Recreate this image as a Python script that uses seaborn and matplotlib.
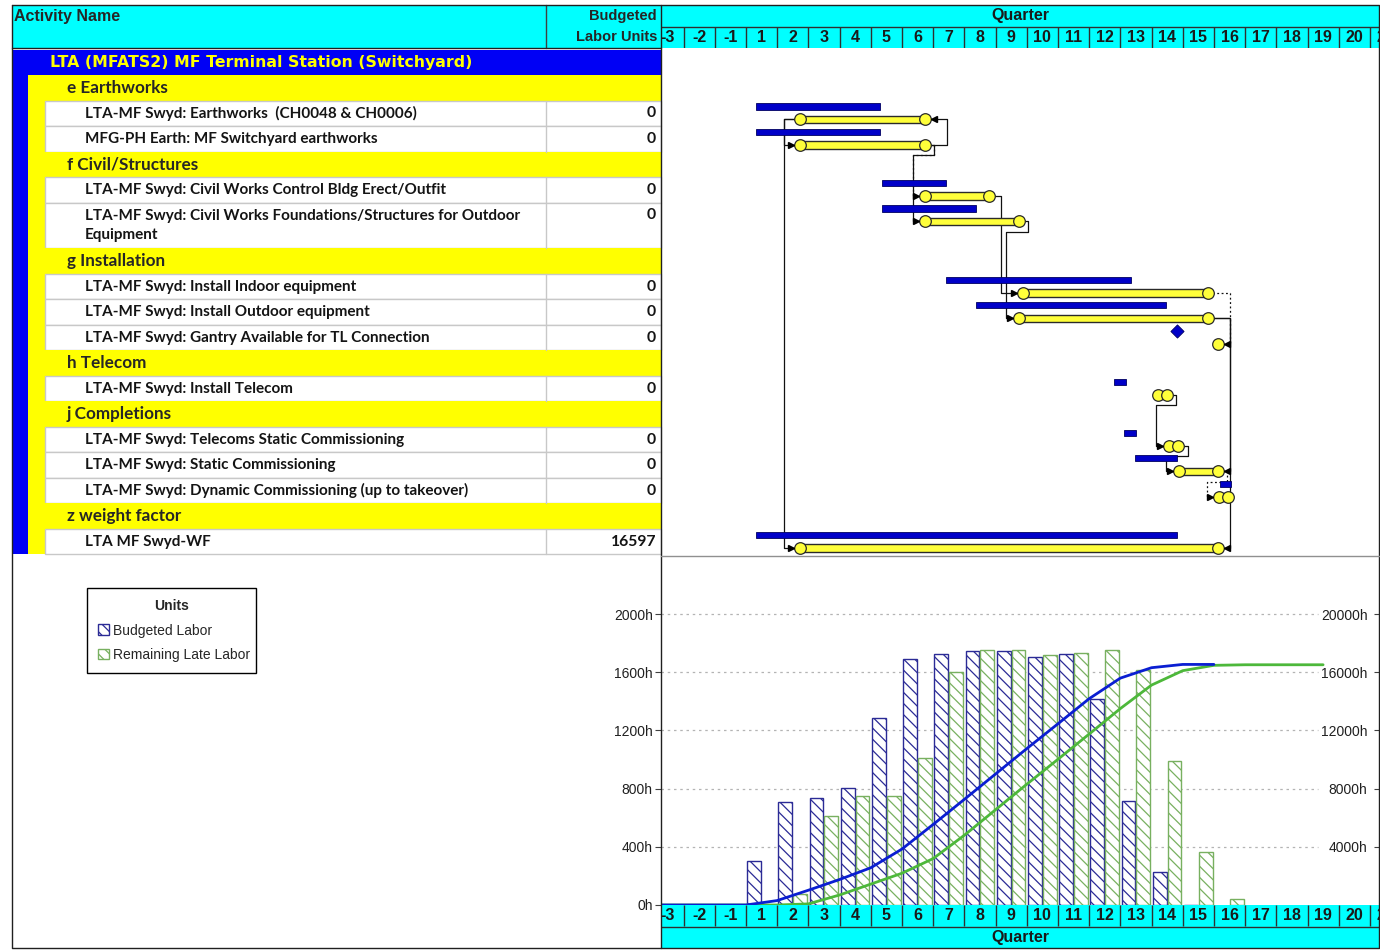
import numpy as np
import pandas as pd
import matplotlib
matplotlib.use("Agg")
from matplotlib import pyplot as plt
from matplotlib.patches import Rectangle, Patch
import seaborn as sns

# ---- table rows ----
row_kind = ["project", "group", "act", "act", "group", "act", "act", "group",
            "act", "act", "act", "group", "act", "group", "act", "act", "act",
            "group", "act"]
row_text = [
    "LTA (MFATS2) MF Terminal Station (Switchyard)",
    "e Earthworks",
    "LTA-MF Swyd: Earthworks  (CH0048 & CH0006)",
    "MFG-PH Earth: MF Switchyard earthworks",
    "f Civil/Structures",
    "LTA-MF Swyd: Civil Works Control Bldg Erect/Outfit",
    "LTA-MF Swyd: Civil Works Foundations/Structures for Outdoor\nEquipment",
    "g Installation",
    "LTA-MF Swyd: Install Indoor equipment",
    "LTA-MF Swyd: Install Outdoor equipment",
    "LTA-MF Swyd: Gantry Available for TL Connection",
    "h Telecom",
    "LTA-MF Swyd: Install Telecom",
    "j Completions",
    "LTA-MF Swyd: Telecoms Static Commissioning",
    "LTA-MF Swyd: Static Commissioning",
    "LTA-MF Swyd: Dynamic Commissioning (up to takeover)",
    "z weight factor",
    "LTA MF Swyd-WF",
]
labor_units = [0, 0, 0, 0, 0, 0, 0, 0, 0, 0, 0, 16597]

# ---- activity dates, in quarters counted from the start of Q1 ----
base_start = [0.32, 0.32, 4.36, 4.36, 6.41, 7.37, 13.82, 11.80, 12.12, 12.47, 15.21, 0.32]
base_finish = [4.29, 4.29, 6.41, 7.37, 12.34, 13.46, 13.82, 12.18, 12.50, 13.82, 15.56, 13.82]
late_start = [1.73, 1.73, 5.74, 5.74, 8.88, 8.75, 15.13, 13.22, 13.55, 13.88, 15.17, 1.73]
late_finish = [5.74, 5.74, 7.79, 8.75, 14.81, 14.81, 15.13, 13.49, 13.86, 15.13, 15.45, 15.13]

# relationships between activities
rel_pred = [0, 0, 1, 1, 1, 2, 3, 4, 5, 5, 7, 8, 9]
rel_succ = [1, 11, 0, 2, 3, 4, 5, 6, 9, 11, 8, 9, 10]
rel_type = ["SS", "SS", "FF", "FS", "FS", "FS", "FS", "FF", "FF", "FF", "FS", "FS", "FS"]
rel_driving = [True, True, True, False, True, True, True, False, True, True, True, True, False]

# ---- labor histogram (hours per quarter) ----
budget_q = list(range(1, 16))
budgeted_labor = [304, 710, 737, 806, 1285, 1691, 1725, 1743, 1743, 1707, 1725, 1416, 717, 225, 0]
late_q = list(range(1, 17))
remaining_late_labor = [0, 75, 612, 747, 747, 1008, 1603, 1752, 1752, 1716, 1734, 1752, 1615, 992, 367, 39]
late_curve_until = 18.5

quarter_labels = [-3, -2, -1] + list(range(1, 22))
col_edges = np.arange(-3, 21)

# ---- styling ----
LATO = ["Lato", "DejaVu Sans"]
ARIAL = ["Liberation Sans", "DejaVu Sans"]
WIDE = ["DejaVu Sans"]
CYAN, BLUE, YELLOW = "#00FFFF", "#0000F5", "#FFFF00"

sns.set_style("white")
plt.rcParams["font.family"] = ARIAL
plt.rcParams["hatch.linewidth"] = 0.9

W, H = 1380, 950
fig = plt.figure(figsize=(W / 100, H / 100), dpi=100)


def px_axes(x0, y0, x1, y1):
    return fig.add_axes([x0 / W, 1 - y1 / H, (x1 - x0) / W, (y1 - y0) / H])


TABLE_L, TIME_L, TIME_R = 12, 661, 1380
ROW_TOP, ROW_PX = 49.5, 25.5
Q1_PX, Q_PX = 745.9, 31.2
S0 = (TIME_L - Q1_PX) / Q_PX
S1 = (TIME_R - Q1_PX) / Q_PX

row_h = np.array([1.8 if "\n" in t else 1.0 for t in row_text])
row_top = np.concatenate([[0], np.cumsum(row_h)[:-1]])
n_units = row_h.sum()
act_rows = [i for i, k in enumerate(row_kind) if k == "act"]


def ypx(u):
    return ROW_TOP + u * ROW_PX


# ---- left table ----
bg = px_axes(0, 0, W, H)
bg.set_xlim(0, W)
bg.set_ylim(H, 0)
bg.axis("off")

bg.add_patch(Rectangle((TABLE_L, 5), TIME_L - TABLE_L, 43, fc=CYAN, ec="none"))
bg.text(14, 16, "Activity Name", ha="left", va="center", fontsize=11.5,
        fontweight="bold", family=ARIAL)
bg.text(657, 16, "Budgeted", ha="right", va="center", fontsize=10.5,
        fontweight="bold", family=ARIAL)
bg.text(657, 37, "Labor Units", ha="right", va="center", fontsize=10.5,
        fontweight="bold", family=ARIAL)
bg.plot([546, 546], [5, 48], color="#404040", lw=1)
bg.plot([TABLE_L, TIME_L], [48, 48], color="#202020", lw=1)
bg.add_patch(Rectangle((TABLE_L, ypx(0)), 16, n_units * ROW_PX, fc=BLUE, ec="none"))

a = 0
for i, (kind, text) in enumerate(zip(row_kind, row_text)):
    y0 = ypx(row_top[i])
    h = row_h[i] * ROW_PX
    yc = y0 + h / 2
    if kind == "project":
        bg.add_patch(Rectangle((TABLE_L, y0), TIME_L - TABLE_L, h, fc=BLUE, ec="none"))
        bg.text(50, yc, text, color=YELLOW, ha="left", va="center", fontsize=11.3,
                fontweight="bold", family=WIDE)
    elif kind == "group":
        bg.add_patch(Rectangle((28, y0), TIME_L - 28, h, fc=YELLOW, ec="none"))
        bg.text(67, yc, text, ha="left", va="center", fontsize=12.3,
                fontweight="bold", family=LATO)
    else:
        bg.add_patch(Rectangle((28, y0), 17, h, fc=YELLOW, ec="none"))
        bg.add_patch(Rectangle((45, y0), TIME_L - 45, h, fc="white", ec="#c8c8c8", lw=1))
        bg.plot([546, 546], [y0, y0 + h], color="#c8c8c8", lw=1)
        bg.text(85, yc, text, ha="left", va="center", fontsize=11, linespacing=1.5,
                fontweight="bold", family=LATO, color="#141414")
        bg.text(656, y0 + ROW_PX / 2, f"{labor_units[a]}", ha="right", va="center",
                fontsize=11.3, fontweight="bold", family=LATO, color="#141414")
        a += 1


# ---- timeline bands ----
def quarter_band(y0, y1, labels_top):
    band = px_axes(TIME_L, y0, TIME_R, y1)
    band.set_xlim(S0, S1)
    band.set_ylim(43, 0)
    band.set_facecolor(CYAN)
    band.set_xticks([])
    band.set_yticks([])
    for sp in band.spines.values():
        sp.set_visible(False)
    ly0 = 0 if labels_top else 22
    ly1 = ly0 + 21
    qy = 32.5 if labels_top else 11
    band.axhline(22, color="#303030", lw=1)
    band.vlines(col_edges, ly0, ly1, color="#303030", lw=1)
    for lab, x in zip(quarter_labels, col_edges + 0.5):
        band.text(x, (ly0 + ly1) / 2, str(lab), ha="center", va="center",
                  fontsize=11.5, fontweight="bold", family=ARIAL, color="#1a1a1a",
                  clip_on=True)
    band.text(0.5, qy, "Quarter", transform=band.get_yaxis_transform(),
              ha="center", va="center", fontsize=11.5, fontweight="bold",
              family=ARIAL, color="#1a1a1a")
    return band


quarter_band(5, 48, labels_top=False)
quarter_band(905, 948, labels_top=True)

# ---- gantt ----
gantt = px_axes(TIME_L, ROW_TOP, TIME_R, ypx(n_units))
gantt.set_xlim(S0, S1)
gantt.set_ylim(n_units, 0)
gantt.axis("off")

bs, bf = np.array(base_start), np.array(base_finish)
ls_, lf = np.array(late_start), np.array(late_finish)
base_y = row_top[act_rows] + 0.235
late_y = row_top[act_rows] + 0.745

for p, s, kind, drive in zip(rel_pred, rel_succ, rel_type, rel_driving):
    yp, ys = late_y[p], late_y[s]
    if kind == "SS":
        x1, x2 = ls_[p], ls_[s]
        xs, yy = [x1, x1 - 0.5, x1 - 0.5, x2], [yp, yp, ys, ys]
        head, hx = ">", x2 - 0.28
    elif kind == "FF":
        x1, x2 = lf[p], lf[s]
        xs, yy = [x1, x1 + 0.7, x1 + 0.7, x2], [yp, yp, ys, ys]
        head, hx = "<", x2 + 0.28
    else:
        x1, x2 = lf[p], ls_[s]
        if x2 - x1 > 0.6:
            xs, yy = [x1, x1 + 0.4, x1 + 0.4, x2], [yp, yp, ys, ys]
        else:
            xs = [x1, x1 + 0.3, x1 + 0.3, x2 - 0.4, x2 - 0.4, x2]
            yy = [yp, yp, yp + 0.4, yp + 0.4, ys, ys]
        head, hx = ">", x2 - 0.28
    gantt.plot(xs, yy, color="#111111", lw=0.9,
               ls="-" if drive else (0, (1.5, 2)), zorder=2)
    gantt.plot(hx, ys, marker=head, color="black", ms=5, zorder=6)

bar_m = bf > bs
gantt.barh(base_y[bar_m], bf[bar_m] - bs[bar_m], left=bs[bar_m], height=0.24,
           color="#0000C8", edgecolor="#000060", lw=0.6, zorder=3)
gantt.scatter(bs[~bar_m], base_y[~bar_m], marker="D", s=45, color="#0000C8",
              edgecolor="#000060", lw=0.6, zorder=3)

late_m = lf > ls_
gantt.barh(late_y[late_m], lf[late_m] - ls_[late_m], left=ls_[late_m], height=0.3,
           color="#FFFF3A", edgecolor="#2a2a2a", lw=1.0, zorder=3)
gantt.scatter(np.concatenate([ls_, lf[late_m]]),
              np.concatenate([late_y, late_y[late_m]]),
              marker="o", s=70, color="#FFFF3A", edgecolor="#2a2a2a", lw=0.9, zorder=4)

# ---- labor histogram ----
hist = px_axes(TIME_L, 557, TIME_R, 905)
px_per_h = (905 - 614) / 2000
ytop = (905 - 557) / px_per_h

hist_df = pd.concat([
    pd.DataFrame({"quarter": np.array(budget_q) - 0.5, "hours": budgeted_labor,
                  "series": "Budgeted Labor"}),
    pd.DataFrame({"quarter": np.array(late_q) - 0.5, "hours": remaining_late_labor,
                  "series": "Remaining Late Labor"}),
])
sns.barplot(data=hist_df, x="quarter", y="hours", hue="series", native_scale=True,
            width=0.95, gap=0.08, errorbar=None, legend=False, saturation=1,
            palette=["#2b2b96", "#78b060"], ax=hist)
for cont, edge in zip(hist.containers, ["#2b2b96", "#78b060"]):
    for bar in cont:
        bar.set_facecolor("white")
        bar.set_edgecolor(edge)
        bar.set_hatch("\\\\\\")
        bar.set_linewidth(1)

cum = hist.twinx()
blue_x = np.concatenate([[-3, 0], budget_q])
blue_cum = np.concatenate([[0, 0], np.cumsum(budgeted_labor)])
green_x = np.concatenate([[-3, 0], late_q, [late_curve_until]])
green_tot = np.cumsum(remaining_late_labor)
green_cum = np.concatenate([[0, 0], green_tot, [green_tot[-1]]])
sns.lineplot(x=green_x, y=green_cum, ax=cum, color="#4DB83A", lw=2,
             estimator=None, sort=False)
sns.lineplot(x=blue_x, y=blue_cum, ax=cum, color="#0A1ED2", lw=2,
             estimator=None, sort=False)

hist.set_ylim(0, ytop)
cum.set_ylim(0, ytop * 10)
hist.set_xlim(S0, S1)
hist.set_xlabel("")
hist.set_ylabel("")
cum.set_ylabel("")
hist.set_xticks([])
lticks = np.arange(0, 2001, 400)
hist.set_yticks(lticks)
hist.set_yticklabels([f"{v}h" for v in lticks], family=ARIAL, fontsize=10, color="#202020")
hist.tick_params(axis="y", direction="out", length=4, width=0.8, pad=2, color="#404040")
rticks = np.arange(4000, 20001, 4000)
cum.set_yticks(rticks)
cum.set_yticklabels([f"{v}h" for v in rticks], family=ARIAL, fontsize=10, color="#202020")
cum.tick_params(axis="y", direction="in", length=4, width=0.8, pad=-9, color="#404040")
for t in cum.get_yticklabels():
    t.set_horizontalalignment("right")
hist.hlines(lticks[1:], 0, 0.914, transform=hist.get_yaxis_transform(),
            colors="#b4b4b4", lw=0.9, linestyles=(0, (2, 3)), zorder=0)
for axx in (hist, cum):
    for sp in axx.spines.values():
        sp.set_visible(False)
hist.patch.set_alpha(0)

# ---- legend ----
handles = [Patch(facecolor="white", edgecolor="#2b2b96", hatch="\\\\\\", label="Budgeted Labor"),
           Patch(facecolor="white", edgecolor="#78b060", hatch="\\\\\\", label="Remaining Late Labor")]
leg = fig.legend(handles=handles, title="Units", loc="upper left",
                 bbox_to_anchor=(87 / W, 1 - 673 / H, 169 / W, 85 / H), mode="expand",
                 borderaxespad=0, fancybox=False, edgecolor="black", framealpha=1,
                 prop={"family": ARIAL, "size": 10},
                 title_fontproperties={"family": ARIAL, "size": 10, "weight": "bold"},
                 handlelength=0.8, handleheight=0.8, handletextpad=0.3,
                 labelspacing=0.75, borderpad=0.8)
leg.get_frame().set_linewidth(1)

# ---- frame lines ----
ov = px_axes(0, 0, W, H)
ov.set_xlim(0, W)
ov.set_ylim(H, 0)
ov.axis("off")
ov.patch.set_alpha(0)
ov.plot([TABLE_L, TIME_R - 1, TIME_R - 1, TABLE_L, TABLE_L], [5, 5, 948, 948, 5],
        color="#202020", lw=1)
ov.plot([TIME_L, TIME_L], [5, 948], color="#202020", lw=1)
ov.plot([TIME_L, TIME_R], [556, 556], color="#909090", lw=1)

fig.savefig("out.png", dpi=100)
